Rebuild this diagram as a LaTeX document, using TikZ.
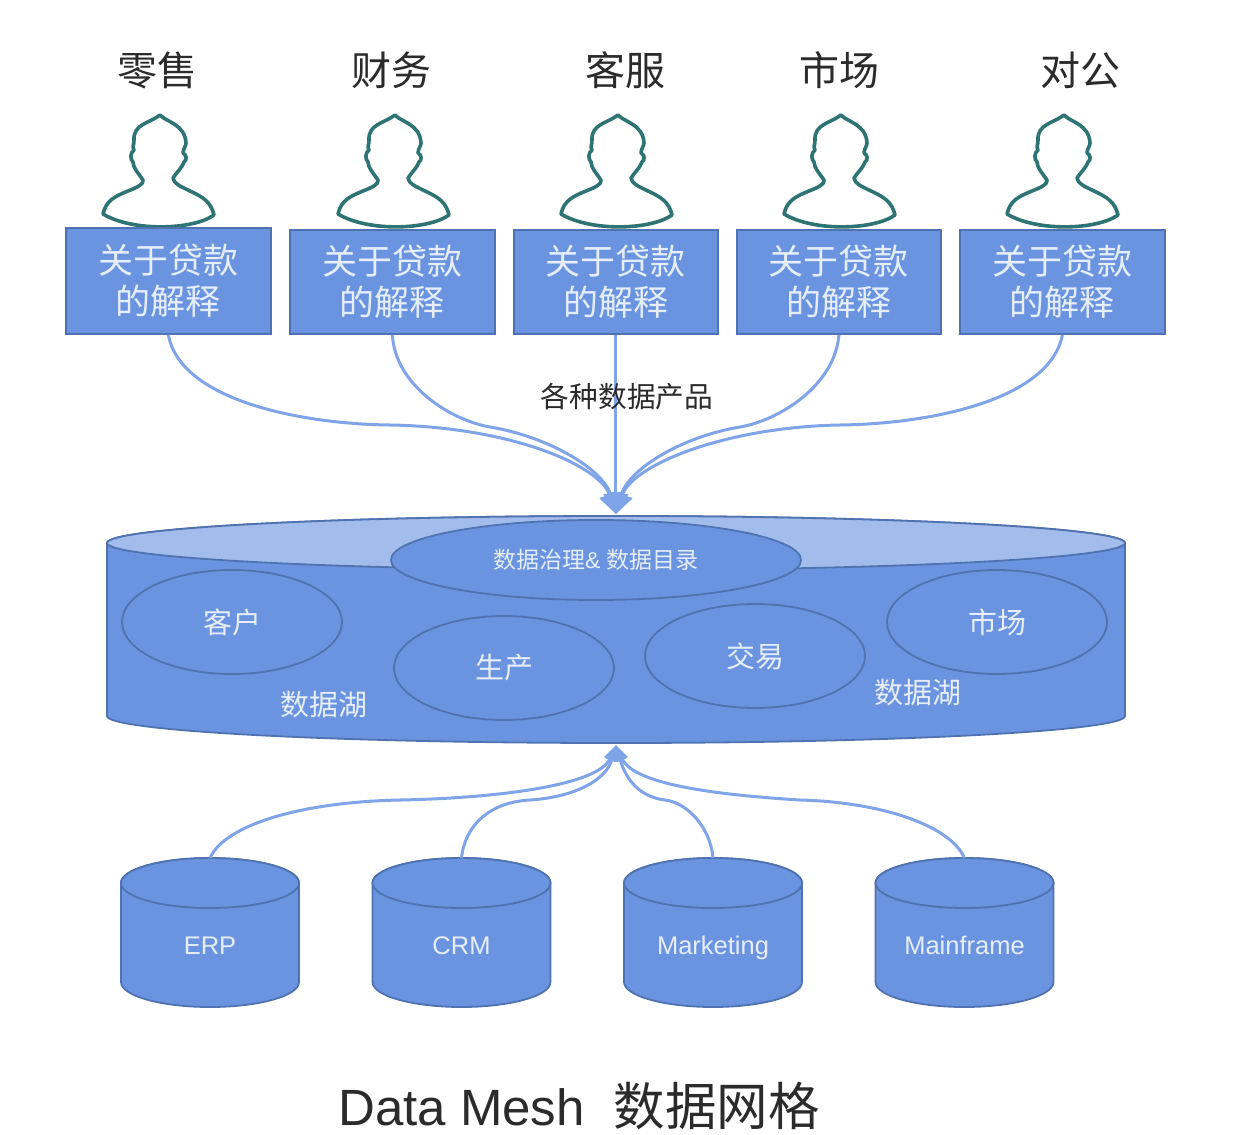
\documentclass[tikz,border=0pt]{standalone}
\usepackage{fontspec}
\setmainfont{Liberation Sans}
\newfontfamily\cjk{Noto Sans CJK SC}
\newfontfamily\latinf{Liberation Sans}
\usetikzlibrary{arrows.meta,shapes.geometric}
\definecolor{fillblue}{HTML}{6A94E0}
\definecolor{lightblue}{HTML}{A2BCEB}
\definecolor{edgeblue}{HTML}{4F72B0}
\definecolor{linkblue}{HTML}{7FA5E8}
\definecolor{personline}{HTML}{2F7474}
\definecolor{paletext}{HTML}{E6EDFB}
\definecolor{darktext}{HTML}{2B2B2B}
\tikzset{
  shapeline/.style={draw=edgeblue,line width=1.8pt,fill=fillblue},
  loanbox/.style={shapeline,anchor=north west,text=paletext,align=center,inner sep=0pt,
    font=\cjk\fontsize{35}{41}\selectfont},
  deptlabel/.style={text=darktext,font=\cjk\fontsize{40}{44}\selectfont},
  onblue/.style={text=paletext,font=\cjk\fontsize{29}{32}\selectfont},
  dbtext/.style={text=paletext,anchor=base,font=\fontsize{25.5}{28}\selectfont},
  domainoval/.style={shapeline,ellipse,minimum width=220pt,minimum height=104pt,inner sep=0pt,text=paletext,
    font=\cjk\fontsize{29}{32}\selectfont},
  linkline/.style={draw=linkblue,line width=3pt},
  linktop/.style={linkline,-{Triangle[length=20pt,width=21pt]}},
  linkstraight/.style={linkline,-{Triangle[length=20pt,width=25pt]}},
  linkbot/.style={linkline,-{Triangle[length=16pt,width=11pt]}},
  pics/personicon/.style={code={
    \draw[personline,line width=3.6pt,line join=round,fill=white]
      (2,-1) .. controls (8,6) and (27,8) .. (28,27)
      .. controls (28,30) and (25,33) .. (25,37)
      .. controls (29,39) and (29,44) .. (26,46)
      .. controls (24,52) and (18,57) .. (15,62)
      .. controls (16,68) and (22,70) .. (32,75)
      .. controls (45,81) and (53,86) .. (56,99)
      .. controls (35,114) and (-25,116) .. (-55,98)
      .. controls (-52,84) and (-42,80) .. (-30,75)
      .. controls (-20,71) and (-14,68) .. (-15,64)
      .. controls (-19,58) and (-25,52) .. (-25,46)
      .. controls (-28,43) and (-28,37) .. (-24,34)
      .. controls (-26,30) and (-24,30) .. (-24,24)
      .. controls (-25,8) and (-8,7) .. (2,-1) -- cycle;
  }}
}
\newcommand{\dbcyl}[4]{%
  \path[shapeline] (#2-89,883) -- (#2-89,982) arc[x radius=89,y radius=25,start angle=180,end angle=0]
     -- (#2+89,883) arc[x radius=89,y radius=25,start angle=0,end angle=-180] -- cycle;
  \draw[shapeline] (#2,883) ellipse[x radius=89,y radius=25];
  \coordinate (#1) at (#2,858);
  \node[dbtext] (#1label) at (#2,#3) {#4};
}
\begin{document}
\begin{tikzpicture}[x=1pt,y=-1pt]
\useasboundingbox (0,0) rectangle (1238,1134);
\fill[white] (0,0) rectangle (1238,1134);

% departments
\node[deptlabel] (d1) at (157,70) {零售};
\node[deptlabel] (d2) at (391,70) {财务};
\node[deptlabel] (d3) at (625,70) {客服};
\node[deptlabel] (d4) at (839,70) {市场};
\node[deptlabel] (d5) at (1080,70) {对公};

% people
\pic at (158,116) {personicon};
\pic at (393,116) {personicon};
\pic at (616,116) {personicon};
\pic at (839,116) {personicon};
\pic at (1062,116) {personicon};

% boxes
\node[loanbox,minimum width=205pt,minimum height=106pt] (b1) at (65,227) {\rule{0pt}{29pt}关于贷款\\的解释};
\node[loanbox,minimum width=205pt,minimum height=104pt] (b2) at (289,229) {\rule{0pt}{29pt}关于贷款\\的解释};
\node[loanbox,minimum width=204pt,minimum height=104pt] (b3) at (513,229) {\rule{0pt}{29pt}关于贷款\\的解释};
\node[loanbox,minimum width=204pt,minimum height=104pt] (b4) at (736,229) {\rule{0pt}{29pt}关于贷款\\的解释};
\node[loanbox,minimum width=205pt,minimum height=104pt] (b5) at (959,229) {\rule{0pt}{29pt}关于贷款\\的解释};

% data lake cylinder
\path[shapeline] (107,543) -- (107,716) arc[x radius=509,y radius=27,start angle=180,end angle=0]
   -- (1125,543) arc[x radius=509,y radius=27,start angle=0,end angle=-180] -- cycle;
\draw[shapeline,fill=lightblue] (616,543) ellipse[x radius=509,y radius=27];
\coordinate (laketop) at (b3.south |- 0,514);
\coordinate (lakebottom) at (616,745);

\node[shapeline,ellipse,minimum width=410pt,minimum height=80pt,inner sep=0pt,text=paletext,
  font=\cjk\fontsize{23}{25}\selectfont] (gov) at (596,560) {数据治理{\latinf\&\ }数据目录};
\node[domainoval] (e1) at (232,622) {客户};
\node[domainoval] (e2) at (504,668) {生产};
\node[domainoval] (e3) at (755,656) {交易};
\node[domainoval] (e4) at (997,622) {市场};
\node[onblue] (lake1) at (324,705) {数据湖};
\node[onblue] (lake2) at (918,693) {数据湖};

% source databases
\dbcyl{erp}{210}{954}{ERP}
\dbcyl{crm}{461.5}{954}{CRM}
\dbcyl{mkt}{713}{954}{Marketing}
\dbcyl{mf}{964.5}{954}{Mainframe}

% top connectors
\draw[linktop] (b1.south) .. controls (180,400) and (300,424) .. (390,425)
   .. controls (510,427) and (600,465) .. (laketop);
\draw[linktop] (b2.south) .. controls (395,385) and (450,420) .. (490,427)
   .. controls (550,437) and (604,470) .. (laketop);
\draw[linkstraight] (b3.south) -- (laketop);
\draw[linktop] (b4.south) .. controls (835,385) and (780,420) .. (740,427)
   .. controls (680,437) and (628,470) .. (laketop);
\draw[linktop] (b5.south) .. controls (1050,400) and (930,424) .. (840,425)
   .. controls (725,427) and (632,465) .. (laketop);

% bottom connectors
\draw[linkbot] (erp) .. controls (225,825) and (300,802) .. (400,800)
   .. controls (500,798) and (598,785) .. (lakebottom);
\draw[linkbot] (crm) .. controls (465,825) and (490,802) .. (530,800)
   .. controls (575,797) and (606,780) .. (lakebottom);
\draw[linkbot] (mkt) .. controls (710,825) and (685,802) .. (665,800)
   .. controls (640,797) and (626,780) .. (lakebottom);
\draw[linkbot] (mf) .. controls (950,825) and (880,802) .. (800,800)
   .. controls (720,795) and (634,785) .. (lakebottom);

% labels over connectors
\node[text=darktext,font=\cjk\fontsize{28.7}{32}\selectfont] (products) at (627,397) {各种数据产品};
\node[text=darktext,anchor=base west,inner sep=0pt,font=\fontsize{51}{56}\selectfont] (title) at (338,1125)
  {Data Mesh\hspace{29pt}{\cjk\fontsize{51.5}{56}\selectfont 数据网格}};
\end{tikzpicture}
\end{document}
